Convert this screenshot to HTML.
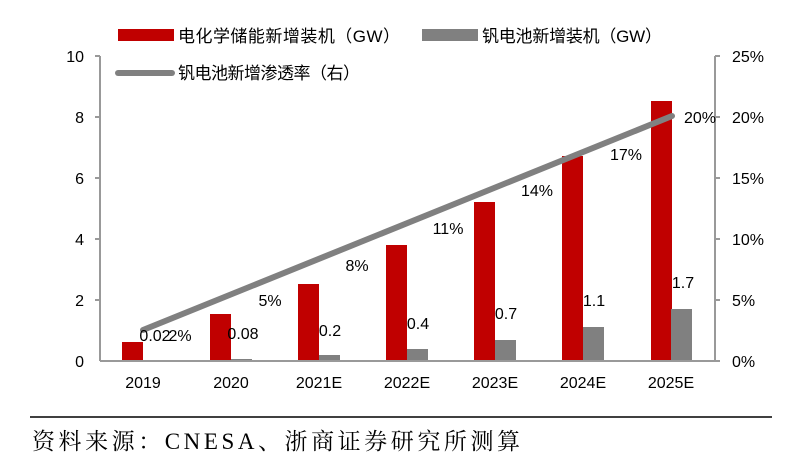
<!DOCTYPE html>
<html><head><meta charset="utf-8"><style>
html,body{margin:0;padding:0;background:#fff;}
svg{display:block;font-family:"Liberation Sans","Noto Sans CJK SC",sans-serif;}
</style></head><body>
<svg width="800" height="468" viewBox="0 0 800 468">
<rect width="800" height="468" fill="#fff"/>
<line x1="100" y1="56" x2="100" y2="361" stroke="#999" stroke-width="2"/>
<g stroke="#999" stroke-width="2">
<line x1="95" y1="56" x2="100" y2="56"/><line x1="95" y1="117" x2="100" y2="117"/>
<line x1="95" y1="178" x2="100" y2="178"/><line x1="95" y1="239" x2="100" y2="239"/>
<line x1="95" y1="300" x2="100" y2="300"/>
<line x1="715" y1="56" x2="720" y2="56"/><line x1="715" y1="117" x2="720" y2="117"/>
<line x1="715" y1="178" x2="720" y2="178"/><line x1="715" y1="239" x2="720" y2="239"/>
<line x1="715" y1="300" x2="720" y2="300"/><line x1="715" y1="361" x2="720" y2="361"/>
</g>
<line x1="715" y1="56" x2="715" y2="361" stroke="#999" stroke-width="2"/>
<g font-size="16" fill="#000" text-anchor="end">
<text x="84" y="62">10</text><text x="84" y="123">8</text><text x="84" y="184">6</text>
<text x="84" y="245">4</text><text x="84" y="306">2</text><text x="84" y="367">0</text>
</g>
<g font-size="16" fill="#000">
<text x="732" y="62">25%</text><text x="732" y="123">20%</text><text x="732" y="184">15%</text>
<text x="732" y="245">10%</text><text x="732" y="306">5%</text><text x="732" y="367">0%</text>
</g>
<g fill="#c00000">
<rect x="122" y="342" width="21" height="19"/>
<rect x="210" y="314" width="21" height="47"/>
<rect x="298" y="284" width="21" height="77"/>
<rect x="386" y="245" width="21" height="116"/>
<rect x="474" y="202" width="21" height="159"/>
<rect x="562" y="156" width="21" height="205"/>
<rect x="651" y="101" width="21" height="260"/>
</g>
<g fill="#808080">
<rect x="143" y="360" width="21" height="1"/>
<rect x="231" y="359" width="21" height="2"/>
<rect x="319" y="355" width="21" height="6"/>
<rect x="407" y="349" width="21" height="12"/>
<rect x="495" y="340" width="21" height="21"/>
<rect x="583" y="327" width="21" height="34"/>
<rect x="671" y="309" width="21" height="52"/>
</g>
<line x1="100" y1="361" x2="715" y2="361" stroke="#999" stroke-width="2"/>
<line x1="143" y1="330" x2="672" y2="116" stroke="#808080" stroke-width="6" stroke-linecap="round"/>
<g font-size="16" fill="#000" text-anchor="middle">
<text x="155" y="341">0.02</text><text x="180" y="341">2%</text>
<text x="243" y="339">0.08</text><text x="270" y="306">5%</text>
<text x="330" y="336">0.2</text><text x="357" y="271">8%</text>
<text x="418" y="329">0.4</text><text x="448" y="234">11%</text>
<text x="506" y="319">0.7</text><text x="537" y="196">14%</text>
<text x="594" y="306">1.1</text><text x="626" y="160">17%</text>
<text x="683" y="288">1.7</text><text x="700" y="123">20%</text>
</g>
<g font-size="16" fill="#000" text-anchor="middle">
<text x="143" y="388">2019</text><text x="231" y="388">2020</text><text x="319" y="388">2021E</text>
<text x="407" y="388">2022E</text><text x="495" y="388">2023E</text><text x="583" y="388">2024E</text>
<text x="671" y="388">2025E</text>
</g>
<rect x="118" y="29" width="56" height="12" fill="#c00000"/>
<text x="178" y="42" font-size="17" textLength="222">电化学储能新增装机（GW）</text>
<rect x="422" y="29" width="56" height="12" fill="#808080"/>
<text x="482" y="42" font-size="17" textLength="180">钒电池新增装机（GW）</text>
<line x1="118" y1="73" x2="172" y2="73" stroke="#808080" stroke-width="6" stroke-linecap="round"/>
<text x="178" y="79" font-size="17" textLength="182">钒电池新增渗透率（右）</text>
<line x1="30" y1="417" x2="772" y2="417" stroke="#000" stroke-width="1.5"/>
<text x="32" y="449" font-size="23" textLength="488" font-family="'Liberation Serif','Noto Serif CJK SC',serif">资料来源：CNESA、浙商证券研究所测算</text>
</svg>
</body></html>
